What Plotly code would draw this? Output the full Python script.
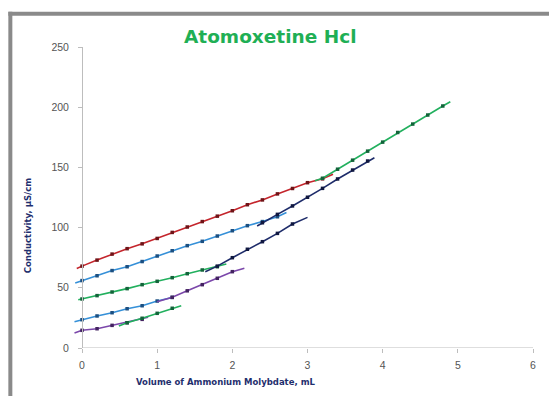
import plotly.graph_objects as go

# ---------------- data ----------------
title_text = "Atomoxetine Hcl"
x_title = "Volume of Ammonium Molybdate, mL"
y_title = "Conductivity, µS/cm"
x_ticks = [0, 1, 2, 3, 4, 5, 6]
y_ticks = [0, 50, 100, 150, 200, 250]

# top pair: red (before break) and green (after break)
red_x = [0, 0.2, 0.4, 0.6, 0.8, 1.0, 1.2, 1.4, 1.6, 1.8, 2.0, 2.2, 2.4, 2.6, 2.8, 3.0, 3.2]
red_y = [68, 73, 78, 82.5, 86.5, 91, 96, 100.5, 105, 109.5, 114, 119, 123, 128, 132.5, 137.3, 140.5]
red_ext = ([-0.07, 66], [3.34, 144.3])

green_top_x = [3.2, 3.4, 3.6, 3.8, 4.0, 4.2, 4.4, 4.6, 4.8]
green_top_y = [141, 148.5, 156, 163.5, 171, 179, 186, 193.5, 201]
green_top_ext = ([3.1, 139], [4.9, 204.5])

# second pair: blue (upper) and navy (upper)
blue_up_x = [0, 0.2, 0.4, 0.6, 0.8, 1.0, 1.2, 1.4, 1.6, 1.8, 2.0, 2.2, 2.4, 2.6]
blue_up_y = [56, 60, 64.3, 67.5, 71.8, 76.4, 80.8, 85, 88.6, 93, 97.4, 101.6, 105, 109]
blue_up_ext = ([-0.09, 54], [2.72, 112.5])

navy_up_x = [2.4, 2.6, 2.8, 3.0, 3.2, 3.4, 3.6, 3.8]
navy_up_y = [104, 111, 118, 125.2, 132.6, 140.4, 147.8, 155.3]
navy_up_ext = ([2.33, 101.3], [3.89, 158])

# third pair: green (middle) and navy (lower)
green_mid_x = [0, 0.2, 0.4, 0.6, 0.8, 1.0, 1.2, 1.4, 1.6, 1.8]
green_mid_y = [40.7, 43.5, 46.5, 49.3, 52.6, 55.4, 58.4, 61.7, 64.8, 67.5]
green_mid_ext = ([-0.05, 40], [1.92, 69.8])

navy_lo_x = [1.8, 2.0, 2.2, 2.4, 2.6, 2.8]
navy_lo_y = [68, 75, 82, 88.3, 95.2, 103]
navy_lo_ext = ([1.64, 63.4], [3.0, 108.5])

# fourth pair: blue (lower) and purple (upper)
blue_lo_x = [0, 0.2, 0.4, 0.6, 0.8, 1.0, 1.2]
blue_lo_y = [23.5, 26.6, 29.3, 32.6, 35.1, 39, 42]
blue_lo_ext = ([-0.1, 21.8], [1.22, 42.8])

purple_up_x = [1.2, 1.4, 1.6, 1.8, 2.0]
purple_up_y = [42.1, 47.5, 52.6, 57.9, 63.4]
purple_up_ext = ([1.0, 38.5], [2.16, 66.2])

# fifth pair: purple (lower) and green (lower)
purple_lo_x = [0, 0.2, 0.4, 0.6, 0.8]
purple_lo_y = [14.7, 16, 18.8, 21, 23.8]
purple_lo_ext = ([-0.1, 12.5], [0.88, 25.5])

green_lo_x = [0.6, 0.8, 1.0, 1.2]
green_lo_y = [21, 24.7, 28.8, 33]
green_lo_ext = ([0.49, 18.3], [1.32, 35.1])

# ---------------- style ----------------
RED, RED_M = "#C4252C", "#6E1418"
BLUE, BLUE_M = "#3590D8", "#1C4F80"
GREEN, GREEN_M = "#22B05E", "#13633A"
NAVY, NAVY_M = "#1E2C6A", "#101840"
PURPLE, PURPLE_M = "#7B47AA", "#432360"

series = [
    (red_x, red_y, red_ext, RED, RED_M),
    (green_top_x, green_top_y, green_top_ext, GREEN, GREEN_M),
    (blue_up_x, blue_up_y, blue_up_ext, BLUE, BLUE_M),
    (navy_up_x, navy_up_y, navy_up_ext, NAVY, NAVY_M),
    (green_mid_x, green_mid_y, green_mid_ext, GREEN, GREEN_M),
    (navy_lo_x, navy_lo_y, navy_lo_ext, NAVY, NAVY_M),
    (blue_lo_x, blue_lo_y, blue_lo_ext, BLUE, BLUE_M),
    (purple_up_x, purple_up_y, purple_up_ext, PURPLE, PURPLE_M),
    (purple_lo_x, purple_lo_y, purple_lo_ext, PURPLE, PURPLE_M),
    (green_lo_x, green_lo_y, green_lo_ext, GREEN, GREEN_M),
]

fig = go.Figure()
for xs, ys, ext, col, mcol in series:
    lx = [ext[0][0]] + xs + [ext[1][0]]
    ly = [ext[0][1]] + ys + [ext[1][1]]
    fig.add_trace(go.Scatter(x=lx, y=ly, mode="lines",
                             line=dict(color=col, width=1.6),
                             showlegend=False, hoverinfo="skip"))
    fig.add_trace(go.Scatter(x=xs, y=ys, mode="markers",
                             marker=dict(symbol="square", size=3.5, color=mcol),
                             showlegend=False))

# page body has an 8px default margin, so the figure is drawn 8px smaller
OFF = 8
W, H = 557 - OFF, 396 - OFF
XMIN, XMAX = -0.12, 6.0
ML, MR, MT, MB = 72.7 - OFF, 24, 47.3 - OFF, 48
pw = W - ML - MR
ph = H - MT - MB

def px2paper_x(px):
    return (px - OFF - ML) / pw

def px2paper_y(py):
    return (H - MB - (py - OFF)) / ph

AX_COL = "#BDBDBD"
TICK_FONT = dict(family="Liberation Sans", size=10.5, color="#555555")

fig.update_layout(
    width=W, height=H,
    margin=dict(l=ML, r=MR, t=MT, b=MB, autoexpand=False),
    paper_bgcolor="white", plot_bgcolor="white",
    xaxis=dict(range=[XMIN, XMAX], tickvals=x_ticks, showgrid=False, zeroline=False,
               showline=False, ticks="outside", ticklen=4, tickcolor=AX_COL,
               tickfont=TICK_FONT, automargin=False, ticklabelstandoff=3),
    yaxis=dict(range=[0, 250], tickvals=y_ticks, showgrid=False, zeroline=False,
               showline=True, linecolor=AX_COL, linewidth=1,
               ticks="outside", ticklen=4, tickcolor=AX_COL,
               tickfont=TICK_FONT, anchor="free", automargin=False,
               ticklabelstandoff=7,
               position=(0 - XMIN) / (XMAX - XMIN)),
    showlegend=False,
)

shapes = [
    # x axis line from x=0
    dict(type="line", xref="x", yref="y", x0=0, x1=6, y0=0, y1=0,
         line=dict(color=AX_COL, width=1)),
    # gray frame at top and left
    dict(type="line", xref="paper", yref="paper",
         x0=px2paper_x(8), x1=px2paper_x(W + 20), y0=px2paper_y(14), y1=px2paper_y(14),
         line=dict(color="#8A8A8A", width=4)),
    dict(type="line", xref="paper", yref="paper",
         x0=px2paper_x(10), x1=px2paper_x(10), y0=px2paper_y(12), y1=px2paper_y(H + 20),
         line=dict(color="#8A8A8A", width=4)),
]
fig.update_layout(shapes=shapes)

fig.add_annotation(text="<b>" + title_text + "</b>", xref="paper", yref="paper",
                   x=px2paper_x(270), y=px2paper_y(37), showarrow=False,
                   xanchor="center", yanchor="middle",
                   font=dict(family="DejaVu Sans", size=18.5, color="#1FAF55"))
fig.add_annotation(text="<b>" + x_title + "</b>", xref="paper", yref="paper",
                   x=px2paper_x(225), y=px2paper_y(382), showarrow=False,
                   xanchor="center", yanchor="middle",
                   font=dict(family="DejaVu Sans", size=8.5, color="#1F2F6E"))
fig.add_annotation(text="<b>" + y_title + "</b>", xref="paper", yref="paper",
                   x=px2paper_x(28), y=px2paper_y(226), showarrow=False,
                   xanchor="center", yanchor="middle", textangle=-90,
                   font=dict(family="DejaVu Sans", size=8.5, color="#1F2F6E"))

fig.write_html("out.html")
